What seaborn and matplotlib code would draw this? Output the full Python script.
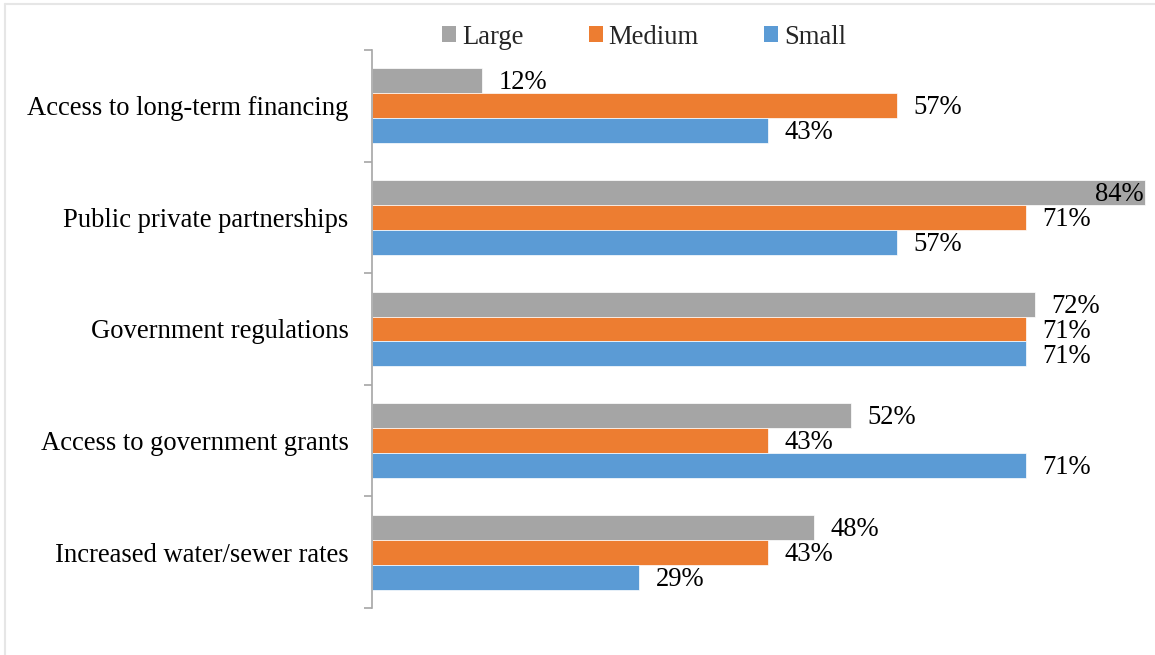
import matplotlib
matplotlib.use("Agg")
import matplotlib.pyplot as plt
from matplotlib.lines import Line2D
from matplotlib.patches import Patch
from matplotlib.ticker import FixedLocator
import pandas as pd
import seaborn as sns

# Survey results: share of utilities citing each funding factor, by utility size
factors = [
    "Access to long-term financing",
    "Public private partnerships",
    "Government regulations",
    "Access to government grants",
    "Increased water/sewer rates",
]
sizes = ["Large", "Medium", "Small"]
large = [12, 84, 72, 52, 48]
medium = [57, 71, 71, 43, 43]
small = [43, 57, 71, 71, 29]

colors = {"Large": "#A5A5A5", "Medium": "#ED7D31", "Small": "#5B9BD5"}

df = pd.DataFrame({
    "factor": factors * 3,
    "size": ["Large"] * 5 + ["Medium"] * 5 + ["Small"] * 5,
    "pct": large + medium + small,
})

sns.set_style("white")
plt.rcParams["font.family"] = ["Liberation Serif", "DejaVu Serif"]
FS = 19.2

fig = plt.figure(figsize=(11.55, 6.55), dpi=100)
ax = fig.add_axes([372 / 1155, 1 - 608 / 655, (1147 - 372) / 1155, (608 - 50) / 655])

sns.barplot(data=df, y="factor", x="pct", hue="size", order=factors,
            hue_order=sizes, palette=colors, saturation=1, orient="h",
            width=0.672, edgecolor="white", linewidth=0.5, legend=False, ax=ax)

xmax = 84.2
ax.set_xlim(0, xmax)
ax.set_ylim(len(factors) - 0.5, -0.5)

# value labels
for cont in ax.containers:
    for bar in cont:
        v = bar.get_width()
        yc = bar.get_y() + bar.get_height() / 2
        if v + 6 > xmax:
            ax.annotate(f"{v:.0f}%", (v, yc), xytext=(-1, -1.5),
                        textcoords="offset points", ha="right", va="center",
                        fontsize=FS, color="black")
        else:
            ax.annotate(f"{v:.0f}%", (v, yc), xytext=(12, -1.5),
                        textcoords="offset points", ha="left", va="center",
                        fontsize=FS, color="black")

# axes styling
for side in ("top", "right", "bottom"):
    ax.spines[side].set_visible(False)
ax.spines["left"].set_color("#A6A6A6")
ax.spines["left"].set_linewidth(1.2)
ax.set_xticks([])
ax.set_xlabel("")
ax.set_ylabel("")
ax.yaxis.set_minor_locator(FixedLocator([i - 0.5 for i in range(len(factors) + 1)]))
ax.tick_params(axis="y", which="major", left=False, length=0, pad=17,
               labelsize=FS, labelcolor="black")
ax.tick_params(axis="y", which="minor", left=True, length=6, width=1.2,
               color="#A6A6A6", direction="out")

# legend across the top
handles = [Patch(facecolor=colors[s], edgecolor="none", label=s) for s in sizes]
fig.legend(handles=handles, loc="center left", bbox_to_anchor=(442 / 1155, 1 - 37 / 655),
           ncol=3, frameon=False, fontsize=FS, handlelength=0.53, handleheight=0.53,
           handletextpad=0.22, columnspacing=2.45, borderpad=0, borderaxespad=0)

# light frame around the chart area
fig.add_artist(Line2D([5 / 1155, 1], [1 - 4 / 655, 1 - 4 / 655], color="#E6E6E6", lw=1.5))
fig.add_artist(Line2D([5 / 1155, 5 / 1155], [0, 1 - 4 / 655], color="#E6E6E6", lw=1.5))

fig.savefig("out.png", dpi=100)
